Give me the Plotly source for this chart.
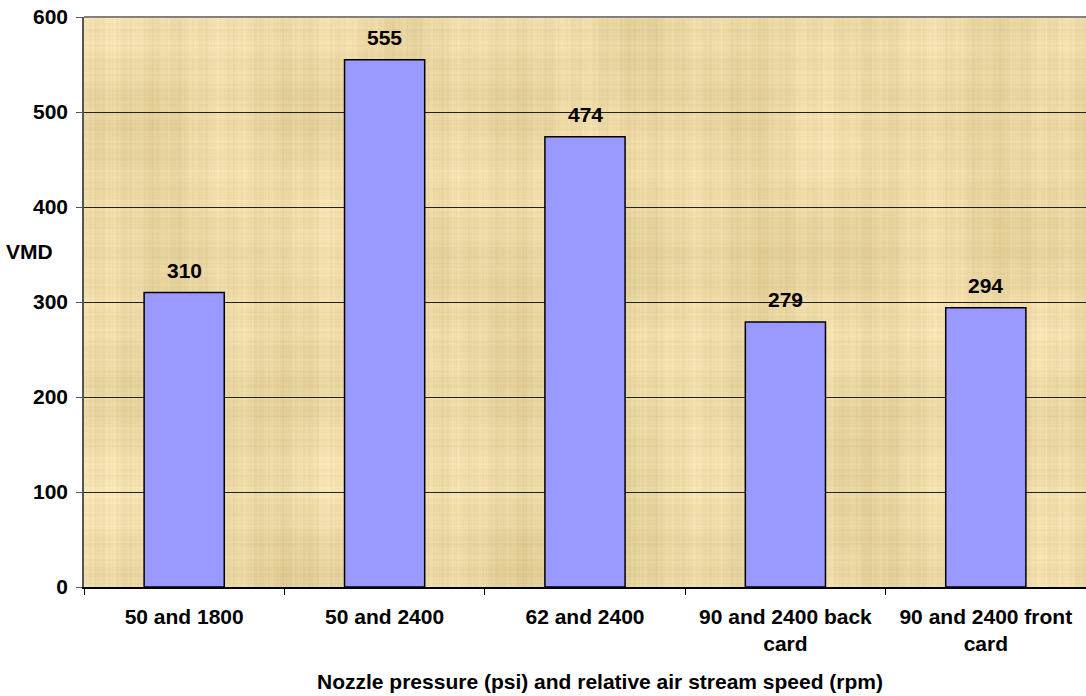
import base64
import struct
import zlib

import numpy as np
import plotly.graph_objects as go

categories = ["50 and 1800", "50 and 2400", "62 and 2400",
              "90 and 2400 back<br>card", "90 and 2400 front<br>card"]
vmd_values = [310, 555, 474, 279, 294]
y_ticks = [0, 100, 200, 300, 400, 500, 600]

FONT = "Liberation Sans, Arial, sans-serif"
FS = 21


def papyrus_png(w, h):
    """Build a soft woven-fibre texture and return it as a PNG data URI."""
    x = np.arange(w)[None, :].astype(float)
    y = np.arange(h)[:, None].astype(float)
    # vertical fibres
    v = (np.sin(x * 0.91) * 0.5 + np.sin(x * 0.237 + 1.3) * 0.8
         + np.sin(x * 0.0531 + 0.4) * 1.0 + np.sin(x * 2.17 + 0.7) * 0.45
         + np.sin(x * 1.41 + 2.2) * 0.4)
    # horizontal fibres
    hz = (np.sin(y * 0.83 + 0.2) * 0.5 + np.sin(y * 0.197 + 2.1) * 0.8
          + np.sin(y * 0.0413 + 1.1) * 1.0 + np.sin(y * 1.93 + 0.3) * 0.45
          + np.sin(y * 1.27 + 0.9) * 0.4)
    # broad blotches
    b = (np.sin(x * 0.013 + y * 0.009) * np.sin(x * 0.007 - y * 0.017 + 0.8)
         + 0.6 * np.sin(x * 0.031 + 0.5) * np.sin(y * 0.027 + 1.7))
    t = 3.4 * v + 2.6 * hz + 4.5 * b
    base = np.array([236.0, 216.0, 164.0])
    tint = np.array([1.0, 1.05, 1.35])
    img = base[None, None, :] + t[..., None] * tint[None, None, :]
    img = np.clip(img, 0, 255).astype(np.uint8)
    raw = b"".join(b"\x00" + img[r].tobytes() for r in range(h))

    def chunk(tag, data):
        return (struct.pack(">I", len(data)) + tag + data
                + struct.pack(">I", zlib.crc32(tag + data) & 0xFFFFFFFF))

    png = (b"\x89PNG\r\n\x1a\n"
           + chunk(b"IHDR", struct.pack(">IIBBBBB", w, h, 8, 2, 0, 0, 0))
           + chunk(b"IDAT", zlib.compress(raw, 9))
           + chunk(b"IEND", b""))
    return "data:image/png;base64," + base64.b64encode(png).decode()


fig = go.Figure()
fig.add_trace(go.Bar(
    x=categories,
    y=vmd_values,
    marker=dict(color="#9999FF", line=dict(color="#000000", width=1.5)),
    width=0.4,
    hoverinfo="x+y",
))

# value labels above each bar
for cat, val in zip(categories, vmd_values):
    fig.add_annotation(x=cat, y=val, text=f"<b>{val}</b>", showarrow=False,
                       yanchor="bottom", yshift=9,
                       font=dict(family=FONT, size=FS, color="#000000"))

# horizontal y-axis title
fig.add_annotation(text="<b>VMD</b>", xref="paper", yref="paper",
                   x=-0.0285, y=0.588, xanchor="right", yanchor="middle",
                   showarrow=False, font=dict(family=FONT, size=FS, color="#000000"))

# x-axis title
fig.add_annotation(text="<b>Nozzle pressure (psi) and relative air stream speed (rpm)</b>",
                   xref="paper", yref="paper", x=0.515, y=-0.165,
                   xanchor="center", yanchor="middle", showarrow=False,
                   font=dict(family=FONT, size=FS, color="#000000"))

fig.add_layout_image(dict(
    source=papyrus_png(1002, 570), xref="paper", yref="paper",
    x=0, y=1, sizex=1, sizey=1, sizing="stretch",
    xanchor="left", yanchor="top", layer="below",
))

fig.update_layout(
    width=1086, height=696,
    margin=dict(l=84, r=0, t=17, b=109),
    paper_bgcolor="#FFFFFF",
    plot_bgcolor="#E9D39E",
    showlegend=False,
    font=dict(family=FONT, size=FS, color="#000000"),
)
fig.update_xaxes(
    type="category",
    tickson="boundaries", ticks="outside", ticklen=6, tickcolor="#000000",
    showline=True, linecolor="#000000", linewidth=1.5,
    showgrid=False,
    tickfont=dict(family=FONT, size=FS, color="#000000", weight="bold"),
    ticklabelstandoff=10,
)
fig.update_yaxes(
    range=[0, 600], tickvals=y_ticks,
    ticks="outside", ticklen=6, tickcolor="#555555",
    showline=True, linecolor="#555555", linewidth=1.5,
    showgrid=True, gridcolor="#222222", gridwidth=1,
    zeroline=False,
    tickfont=dict(family=FONT, size=FS, color="#000000", weight="bold"),
    ticklabelstandoff=4,
)
# grey frame line along the top of the plot area
fig.add_shape(type="line", xref="paper", yref="paper", x0=0, x1=1, y0=1, y1=1,
              line=dict(color="#808080", width=2))

fig.write_html("out.html")
